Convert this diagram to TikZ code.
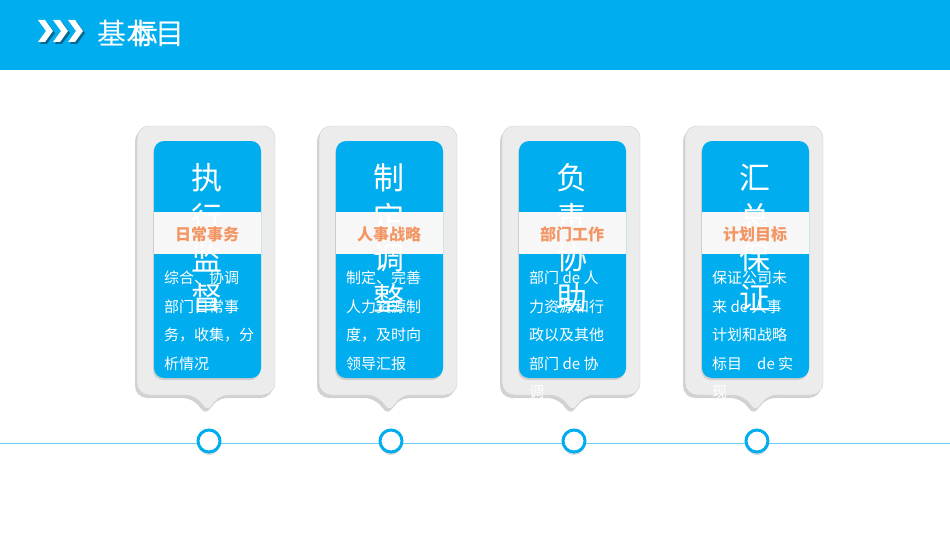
\documentclass[tikz,border=0pt]{standalone}
\usepackage{fontspec}
\newfontfamily\cjk{Noto Sans CJK SC}
\usetikzlibrary{shadows}
\definecolor{skyblue}{RGB}{0,174,239}
\definecolor{cardgray}{RGB}{236,236,236}
\definecolor{labelorange}{RGB}{243,150,100}
\tikzstyle{outercard} = [fill=cardgray, draw=gray!40, rounded corners=12pt,
drop shadow={shadow xshift=-2pt, shadow yshift=-3pt, fill=gray!70}]
\tikzstyle{innercard} = [fill=skyblue, rounded corners=10pt,
drop shadow={shadow xshift=-1pt, shadow yshift=-2pt, fill=gray!60}]
\tikzstyle{band} = [fill=white!94!gray]
\tikzstyle{bigchar} = [text=white, font=\cjk\fontsize{31}{31}\selectfont, inner sep=0pt]
\tikzstyle{cardlabel} = [text=labelorange, font=\cjk\bfseries\fontsize{16}{16}\selectfont]
\tikzstyle{body} = [text=white, anchor=west, inner sep=0pt, font=\cjk\fontsize{15}{15}\selectfont]
\tikzstyle{dot} = [circle, draw=skyblue, line width=3pt, fill=white, minimum size=22pt, inner sep=0pt,
drop shadow={shadow xshift=0pt, shadow yshift=-3pt, fill=gray!60}]

\begin{document}
\begin{tikzpicture}[x=1pt, y=-1pt]
\useasboundingbox (0,0) rectangle (950,535);

% header
\fill[skyblue] (0,0) rectangle (950,70);
\foreach \i in {0,1,2} {
  \fill[skyblue!60!black] (40+\i*15,22) -- (47+\i*15,22) -- (55+\i*15,33) -- (47+\i*15,44) -- (40+\i*15,44) -- (48+\i*15,33) -- cycle;
  \fill[white] (38+\i*15,20) -- (45+\i*15,20) -- (53+\i*15,31) -- (45+\i*15,42) -- (38+\i*15,42) -- (46+\i*15,31) -- cycle;
}
\node (title) [anchor=west, text=white, font=\cjk\fontsize{29}{29}\selectfont, inner sep=0pt] at (97,33) {基本目};
\node (titleb) [text=white, font=\cjk\fontsize{29}{29}\selectfont, inner sep=0pt] at (144,33) {标};

% timeline
\draw[skyblue!60, line width=0.8pt] (0,443) -- (950,443);

\foreach \n/\cx/\big/\lab/\lines in {
  1/207/{执,行,监,督}/日常事务/{综合、协调,部门日常事,务，收集，分,析情况},
  2/389/{制,定,调,整}/人事战略/{制定、完善,人力资源制,度，及时向,领导汇报},
  3/572/{负,责,协,助}/部门工作/{部门 de 人,力资源和行,政以及其他,部门 de 协,调},
  4/755/{汇,总,保,证}/计划目标/{保证公司未,来 de 人事,计划和战略,标目\quad de 实,现}} {
  % card
  \fill[outercard] (\cx-70,126) -- (\cx+68,126) -- (\cx+68,395) -- (\cx+10,395) -- (\cx+1,415) -- (\cx-10,395) -- (\cx-70,395) -- cycle;
  \fill[innercard] (\cx-53,141) rectangle (\cx+54,378);
  \fill[band] (\cx-53,212) rectangle (\cx+54,254);
  \foreach \c [count=\k] in \big
    \node (big\n\k) [bigchar] at (\cx,178+\k*40-40) {\c};
  \node (lab\n) [cardlabel] at (\cx,234) {\lab};
  \foreach \l [count=\k] in \lines
    \node (txt\n\k) [body] at (\cx-43,278+\k*28.5-28.5) {\l};
  \node (dot\n) [dot] at (\cx+2,441) {};
}
\end{tikzpicture}
\end{document}
